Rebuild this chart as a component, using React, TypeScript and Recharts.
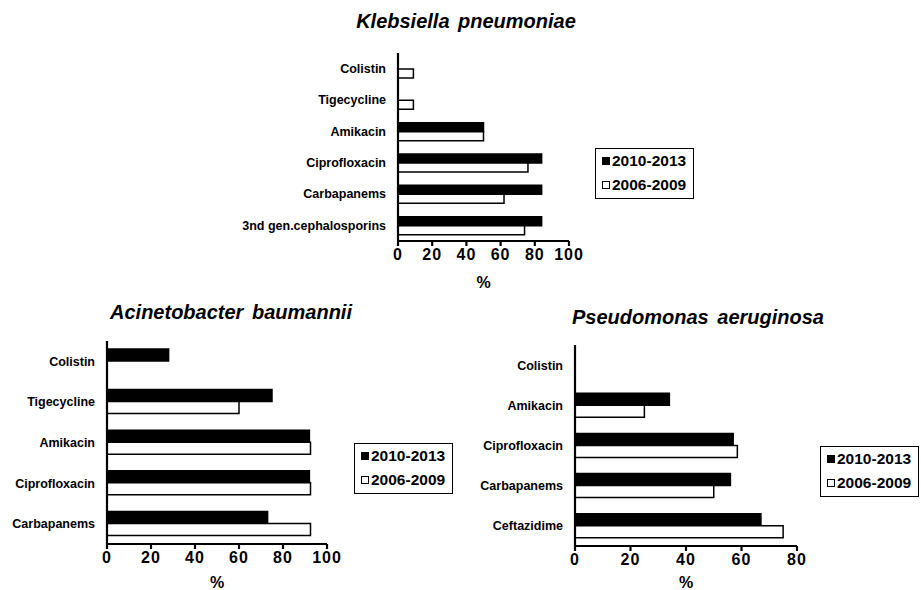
import React from 'react';
import { BarChart, Bar, XAxis, YAxis, Legend } from 'recharts';

const seriesRecent = '2010-2013';
const seriesEarly = '2006-2009';

// Klebsiella pneumoniae
const kpDrugs = ['Colistin', 'Tigecycline', 'Amikacin', 'Ciprofloxacin', 'Carbapanems', '3nd gen.cephalosporins'];
const kpRecent = [0, 0, 50, 84, 84, 84];
const kpEarly = [9, 9, 50, 76, 62, 74];

// Acinetobacter baumannii
const abDrugs = ['Colistin', 'Tigecycline', 'Amikacin', 'Ciprofloxacin', 'Carbapanems'];
const abRecent = [28, 75, 92, 92, 73];
const abEarly = [0, 60, 92.5, 92.5, 92.5];

// Pseudomonas aeruginosa
const paDrugs = ['Colistin', 'Amikacin', 'Ciprofloxacin', 'Carbapanems', 'Ceftazidime'];
const paRecent = [0, 34, 57, 56, 67];
const paEarly = [0, 25, 58.5, 50, 75];

const ticks100 = [0, 20, 40, 60, 80, 100];
const ticks80 = [0, 20, 40, 60, 80];

const FONT = '"Liberation Sans", Arial, sans-serif';

const toRows = (drugs: string[], recent: number[], early: number[]) =>
  drugs.map((drug, i) => ({ drug, recent: recent[i], early: early[i] }));

const LegendBox = () => (
  <div
    style={{
      width: 99,
      height: 51,
      boxSizing: 'border-box',
      border: '1.5px solid #000',
      padding: '0 4px 0 6px',
      fontFamily: FONT,
      fontWeight: 'bold',
      fontSize: 15.5,
      background: '#fff',
    }}
  >
    {[
      { name: seriesRecent, fill: '#000' },
      { name: seriesEarly, fill: '#fff' },
    ].map((item) => (
      <div key={item.name} style={{ display: 'flex', alignItems: 'center', height: 24, lineHeight: '24px' }}>
        <span
          style={{
            display: 'inline-block',
            width: 8,
            height: 8,
            boxSizing: 'border-box',
            border: '1.5px solid #000',
            background: item.fill,
            marginRight: 2,
          }}
        />
        {item.name}
      </div>
    ))}
  </div>
);

interface PanelProps {
  title: string;
  titleX: number;
  titleTop: number;
  left: number;
  top: number;
  width: number;
  height: number;
  yWidth: number;
  xHeight: number;
  barSize: number;
  max: number;
  ticks: number[];
  rows: { drug: string; recent: number; early: number }[];
  legendLeft: number;
  legendTop: number;
  marginRight: number;
}

const Panel = (p: PanelProps) => (
  <>
    <div
      style={{
        position: 'absolute',
        left: p.titleX - 200,
        top: p.titleTop,
        width: 400,
        height: 20,
        lineHeight: '20px',
        textAlign: 'center',
        fontFamily: FONT,
        fontWeight: 'bold',
        fontStyle: 'italic',
        fontSize: 20,
        wordSpacing: 3,
        whiteSpace: 'nowrap',
      }}
    >
      {p.title}
    </div>
    <div style={{ position: 'absolute', left: p.left, top: p.top }}>
      <BarChart
        width={p.width}
        height={p.height}
        data={p.rows}
        layout="vertical"
        barGap={0}
        barSize={p.barSize}
        margin={{ top: 5, right: p.marginRight, bottom: 2, left: 2 }}
      >
        <XAxis
          type="number"
          domain={[0, p.max]}
          ticks={p.ticks}
          interval={0}
          height={p.xHeight}
          stroke="#000"
          strokeWidth={2.2}
          tickSize={5}
          tickMargin={3}
          tick={{ fill: '#000', fontFamily: FONT, fontWeight: 'bold', fontSize: 16, letterSpacing: 1 }}
          label={{
            value: '%',
            position: 'insideBottom',
            offset: 0,
            fill: '#000',
            fontFamily: FONT,
            fontWeight: 'bold',
            fontSize: 16,
          }}
        />
        <YAxis
          type="category"
          dataKey="drug"
          width={p.yWidth}
          interval={0}
          stroke="#000"
          strokeWidth={2.2}
          tickLine={false}
          tickSize={0}
          tickMargin={12}
          tick={{ fill: '#000', fontFamily: FONT, fontWeight: 'bold', fontSize: 12.5 }}
        />
        <Legend
          layout="horizontal"
          verticalAlign="middle"
          align="center"
          wrapperStyle={{ left: p.legendLeft, top: p.legendTop, width: 'auto' }}
          content={() => <LegendBox />}
        />
        <Bar dataKey="recent" name={seriesRecent} fill="#000" stroke="#000" strokeWidth={1.5} isAnimationActive={false} />
        <Bar dataKey="early" name={seriesEarly} fill="#fff" stroke="#000" strokeWidth={1.5} isAnimationActive={false} />
      </BarChart>
    </div>
  </>
);

export default function App() {
  return (
    <div style={{ position: 'absolute', left: 0, top: 0, width: 921, height: 590, background: '#fff', overflow: 'hidden' }}>
      <Panel
        title="Klebsiella pneumoniae"
        titleX={466}
        titleTop={11}
        left={228}
        top={48}
        width={472}
        height={242}
        yWidth={168}
        xHeight={47}
        barSize={9}
        max={100}
        ticks={ticks100}
        rows={toRows(kpDrugs, kpRecent, kpEarly)}
        legendLeft={367}
        legendTop={100}
        marginRight={131}
      />
      <Panel
        title="Acinetobacter baumannii"
        titleX={231}
        titleTop={302}
        left={0}
        top={336}
        width={460}
        height={254}
        yWidth={105}
        xHeight={44}
        barSize={12}
        max={100}
        ticks={ticks100}
        rows={toRows(abDrugs, abRecent, abEarly)}
        legendLeft={354}
        legendTop={107}
        marginRight={133}
      />
      <Panel
        title="Pseudomonas aeruginosa"
        titleX={698}
        titleTop={307}
        left={460}
        top={340}
        width={461}
        height={250}
        yWidth={113}
        xHeight={42}
        barSize={12}
        max={80}
        ticks={ticks80}
        rows={toRows(paDrugs, paRecent, paEarly)}
        legendLeft={360}
        legendTop={106}
        marginRight={124}
      />
    </div>
  );
}
